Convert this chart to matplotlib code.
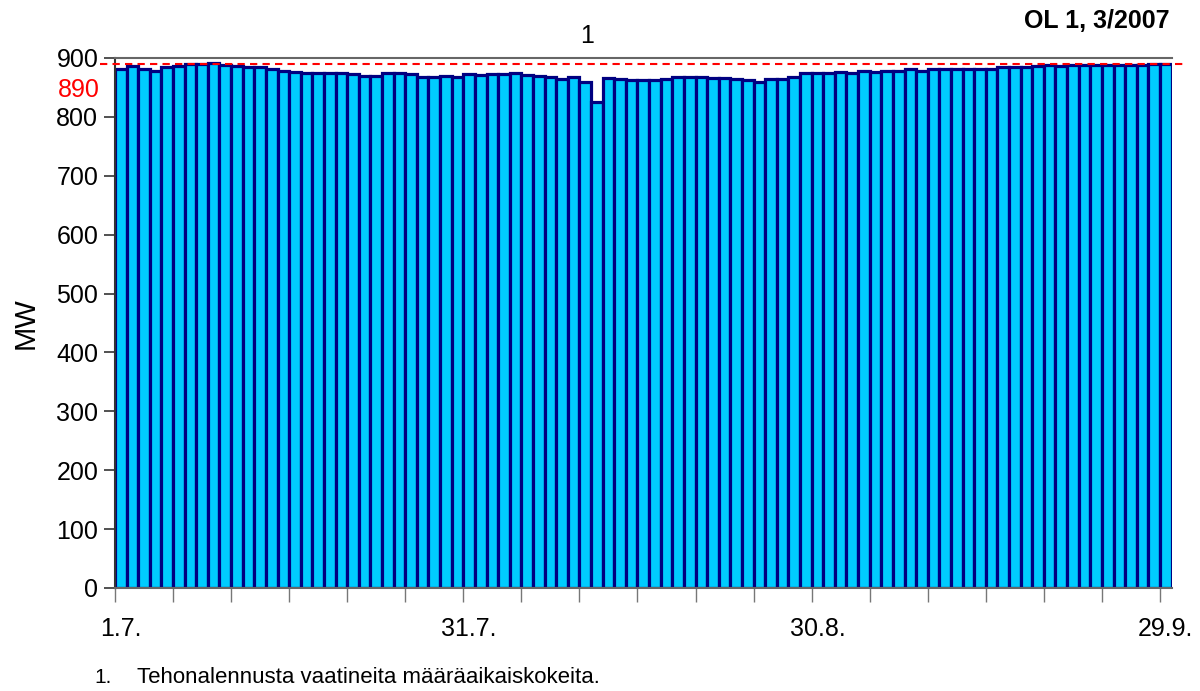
import numpy as np
import matplotlib
matplotlib.use("Agg")
import matplotlib.pyplot as plt

# daily output, 1.7. - 29.9.2007 (MW)
power_mw = [
    881, 886, 881, 878, 884, 887, 890, 890, 892, 888,
    887, 885, 884, 882, 878, 877, 874, 874, 875, 874,
    872, 869, 869, 875, 875, 873, 867, 868, 869, 868,
    873, 871, 873, 873, 874, 871, 869, 867, 864, 867,
    859, 826, 866, 865, 863, 862, 862, 865, 868, 868,
    868, 866, 866, 864, 862, 860, 864, 864, 868, 874,
    874, 875, 877, 875, 878, 877, 878, 878, 881, 878,
    881, 882, 882, 881, 881, 882, 884, 884, 884, 887,
    888, 887, 888, 888, 888, 888, 888, 888, 888, 889,
    889,
]
date_labels = ["1.7.", "31.7.", "30.8.", "29.9."]
date_label_days = [0, 30, 60, 90]
limit_mw = 890
note_day = 41

plt.rcParams["font.family"] = ["Liberation Sans", "DejaVu Sans"]

fig = plt.figure(figsize=(12, 6.91), dpi=100)
ax = fig.add_axes([0.0958, 0.1491, 0.8805, 0.767])

days = np.arange(len(power_mw))
ax.bar(days, power_mw, width=1.0, align="edge", color="#00CCFF",
       edgecolor="#000080", linewidth=2.3, zorder=2)

ax.plot([-1.3, len(power_mw) + 0.95], [limit_mw, limit_mw], color="#FF0000",
        linewidth=1.5, dashes=(3.5, 2.5), clip_on=False, zorder=3)
ax.text(-0.014, 846, str(limit_mw), color="#FF0000", fontsize=18,
        ha="right", va="center", transform=ax.get_yaxis_transform())

ax.set_xlim(0, len(power_mw))
ax.set_ylim(0, 900)
ax.set_yticks(np.arange(0, 901, 100))
ax.set_xticks(np.arange(0, len(power_mw), 5))
ax.set_xticklabels([])
ax.set_xticks(np.array(date_label_days) + 0.5, date_labels, minor=True)

ax.tick_params(axis="y", direction="inout", length=16, width=1.2,
               color="#333333", labelsize=18, pad=4)
ax.tick_params(axis="x", which="major", direction="out", length=10,
               width=1, color="#777777")
ax.tick_params(axis="x", which="minor", length=0, labelsize=18, pad=21)

for side in ["top", "bottom", "left"]:
    ax.spines[side].set_color("#666666")
    ax.spines[side].set_linewidth(1.5)
ax.spines["left"].set_color("#333333")
ax.spines["right"].set_visible(False)

ax.set_ylabel("MW", fontsize=21, labelpad=12)

ax.text(note_day - 0.35, 937, "1", fontsize=18, ha="center", va="center")
fig.text(0.975, 0.970, "OL 1, 3/2007", fontsize=18, fontweight="bold",
         ha="right", va="center")
fig.text(0.079, 0.019, "1.", fontsize=15, ha="left", va="center")
fig.text(0.114, 0.019, "Tehonalennusta vaatineita määräaikaiskokeita.",
         fontsize=16, ha="left", va="center")

fig.savefig("out.png", dpi=100)
